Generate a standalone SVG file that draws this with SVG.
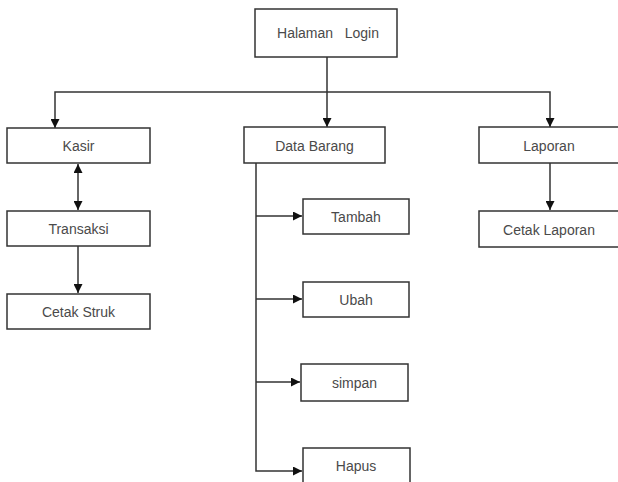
<svg xmlns="http://www.w3.org/2000/svg" width="618" height="482" viewBox="0 0 618 482">
<style>
.box{fill:#fff;stroke:#333;stroke-width:1.5}
.lbl{font-family:"Liberation Sans",Arial,sans-serif;font-size:14px;fill:#4a4a4a;text-anchor:middle;dominant-baseline:central}
.ln{fill:none;stroke:#333;stroke-width:1.5}
</style>
<defs>
<marker id="ah" viewBox="0 0 10 10" refX="10" refY="5" markerWidth="9" markerHeight="9" markerUnits="userSpaceOnUse" orient="auto-start-reverse">
<path d="M0,0 L10,5 L0,10 z" fill="#111"/>
</marker>
</defs>
<rect width="618" height="482" fill="#fff"/>
<g id="connectors">
<path class="ln" d="M327,57 V127" marker-end="url(#ah)"/>
<path class="ln" d="M55,128 V92 H550 V127" marker-start="url(#ah)" marker-end="url(#ah)"/>
<path class="ln" d="M78,164 V210" marker-start="url(#ah)" marker-end="url(#ah)"/>
<path class="ln" d="M78,246 V293" marker-end="url(#ah)"/>
<path class="ln" d="M256,163 V471 H302" marker-end="url(#ah)"/>
<path class="ln" d="M256,216 H302" marker-end="url(#ah)"/>
<path class="ln" d="M256,299 H302" marker-end="url(#ah)"/>
<path class="ln" d="M256,382 H300" marker-end="url(#ah)"/>
<path class="ln" d="M550,163 V210" marker-end="url(#ah)"/>
</g>
<g id="halaman-login"><rect class="box" x="255" y="9" width="142" height="48"/><text class="lbl" x="328" y="33" xml:space="preserve">Halaman   Login</text></g>
<g id="kasir"><rect class="box" x="7" y="128" width="143" height="35"/><text class="lbl" x="78.5" y="146">Kasir</text></g>
<g id="data-barang"><rect class="box" x="244" y="127" width="141" height="36"/><text class="lbl" x="314.5" y="145.5">Data Barang</text></g>
<g id="laporan"><rect class="box" x="479" y="127" width="142" height="36"/><text class="lbl" x="549" y="145.5">Laporan</text></g>
<g id="transaksi"><rect class="box" x="7" y="211" width="143" height="35"/><text class="lbl" x="78.5" y="229">Transaksi</text></g>
<g id="cetak-struk"><rect class="box" x="7" y="294" width="143" height="35"/><text class="lbl" x="78.5" y="312">Cetak Struk</text></g>
<g id="cetak-laporan"><rect class="box" x="479" y="211" width="142" height="36"/><text class="lbl" x="549" y="229.5">Cetak Laporan</text></g>
<g id="tambah"><rect class="box" x="303" y="199" width="106" height="35"/><text class="lbl" x="356" y="217">Tambah</text></g>
<g id="ubah"><rect class="box" x="303" y="282" width="106" height="35"/><text class="lbl" x="356" y="300">Ubah</text></g>
<g id="simpan"><rect class="box" x="301" y="364" width="107" height="37"/><text class="lbl" x="354.5" y="383">simpan</text></g>
<g id="hapus"><rect class="box" x="303" y="448" width="107" height="40"/><text class="lbl" x="356" y="466">Hapus</text></g>
</svg>
